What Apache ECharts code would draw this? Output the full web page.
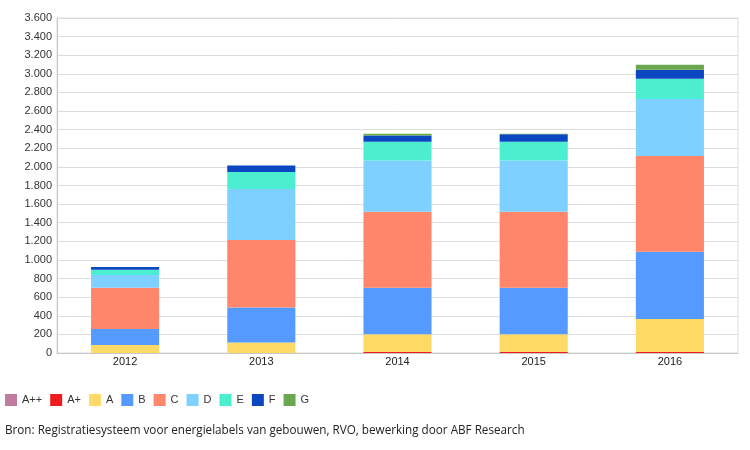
<!DOCTYPE html>
<html>
<head>
<meta charset="utf-8">
<script src="https://cdn.jsdelivr.net/npm/echarts@6/dist/echarts.min.js"></script>
<style>
html,body{margin:0;padding:0;background:#fff;}
#chart{width:750px;height:450px;}
</style>
</head>
<body>
<div id="chart"></div>
<script>
var years = ['2012', '2013', '2014', '2015', '2016'];
var labels = ['A++', 'A+', 'A', 'B', 'C', 'D', 'E', 'F', 'G'];
var colors = ['#C27BA0', '#EE1C1C', '#FFD966', '#559BFF', '#FF866A', '#7DD0FF', '#4BEFCF', '#0A47C0', '#6AA84F'];
var vAPP = [0, 0, 0, 0, 0];
var vAP = [0, 0, 12, 12, 12];
var vA = [86, 112, 189, 189, 354];
var vB = [172, 377, 499, 499, 722];
var vC = [442, 725, 819, 819, 1030];
var vD = [137, 549, 549, 549, 611];
var vE = [57, 183, 201, 201, 219];
var vF = [29, 68, 68, 83, 97];
var vG = [0, 0, 18, 3, 53];
var values = [vAPP, vAP, vA, vB, vC, vD, vE, vF, vG];

var FONT = "'Liberation Sans', Arial, sans-serif";
var chart = echarts.init(document.getElementById('chart'));
function fmt(v) {
  return String(v).replace(/\B(?=(\d{3})+(?!\d))/g, '.');
}
chart.setOption({
  animation: false,
  backgroundColor: '#fff',
  grid: { left: 57, right: 12, top: 18, bottom: 97, show: true, borderColor: '#dcdcdc', borderWidth: 1 },
  legend: {
    left: 5, top: 394, padding: 0,
    itemWidth: 12, itemHeight: 12, itemGap: 8,
    icon: 'rect',
    textStyle: { fontFamily: FONT, fontSize: 11, color: '#333' },
    data: labels
  },
  graphic: [{
    type: 'text', left: 5, top: 425,
    style: { text: 'Bron: Registratiesysteem voor energielabels van gebouwen, RVO, bewerking door ABF Research',
      font: '11.7px "Open Sans", sans-serif', fill: '#222' }
  }],
  xAxis: {
    type: 'category', data: years,
    axisLine: { lineStyle: { color: '#c8c8c8' } },
    axisTick: { show: false },
    axisLabel: { color: '#222', fontFamily: FONT, fontSize: 11, margin: 3 }
  },
  yAxis: {
    type: 'value', min: 0, max: 3600, interval: 200,
    axisLine: { show: true, lineStyle: { color: '#c8c8c8' } },
    axisTick: { show: false },
    splitLine: { lineStyle: { color: '#dcdcdc' } },
    axisLabel: { color: '#333', fontFamily: FONT, fontSize: 11, margin: 5, formatter: fmt }
  },
  series: labels.map(function (name, i) {
    return {
      name: name, type: 'bar', stack: 'total',
      barWidth: '50%',
      itemStyle: { color: colors[i] },
      data: values[i]
    };
  })
});
</script>
</body>
</html>
